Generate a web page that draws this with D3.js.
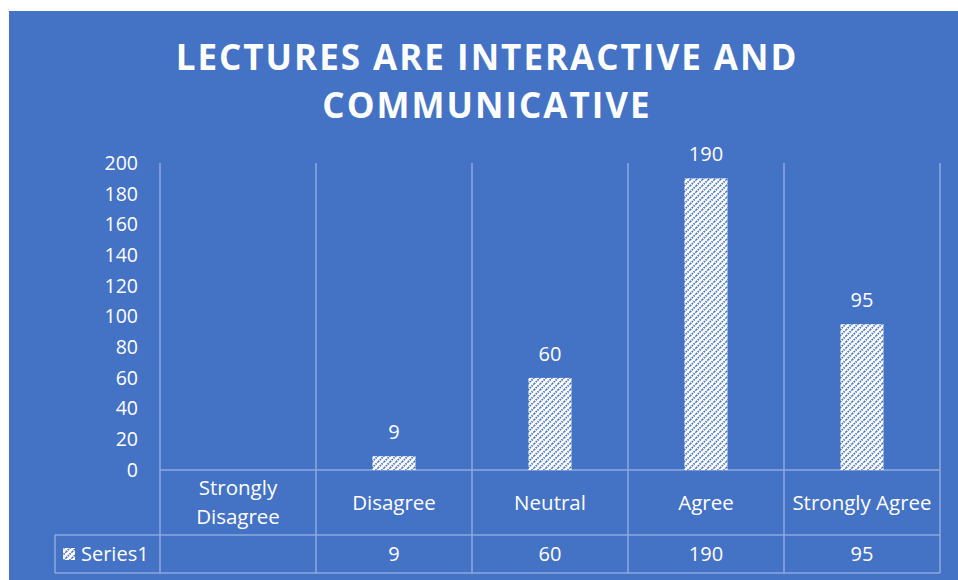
<!DOCTYPE html>
<html><head><meta charset="utf-8">
<script src="https://cdn.jsdelivr.net/npm/d3@7"></script>
<style>body{margin:0;background:#fff}svg{display:block}text{font-family:"Open Sans",sans-serif}</style>
</head><body><svg id="c" width="958" height="580"></svg>
<script>
const categories = ["Strongly Disagree","Disagree","Neutral","Agree","Strongly Agree"];
const categoryLines = [["Strongly","Disagree"],["Disagree"],["Neutral"],["Agree"],["Strongly Agree"]];
const values = [null, 9, 60, 190, 95];
const yTicks = [0,20,40,60,80,100,120,140,160,180,200];
const titleLines = ["LECTURES ARE INTERACTIVE AND","COMMUNICATIVE"];
const seriesName = "Series1";

const svg = d3.select("#c");
const blue = "#4472C4", lineCol = "#8FAADC";
svg.append("rect").attr("x",9).attr("y",11).attr("width",949).attr("height",569).attr("fill",blue);

const defs = svg.append("defs");
const pat = defs.append("pattern").attr("id","hatch").attr("patternUnits","userSpaceOnUse")
  .attr("width",6).attr("height",6);
pat.append("rect").attr("width",6).attr("height",6).attr("fill","#fff");
pat.append("path").attr("d","M-1,1 l2,-2 M0,6 l6,-6 M5,7 l2,-2").attr("stroke",blue).attr("stroke-width",1.8).attr("stroke-dasharray","1.6,0.9");

const x = d3.scaleBand().domain(categories).range([160,940]).padding(0);
const y = d3.scaleLinear().domain([0,200]).range([470,163]);
const row1 = 535, row2 = 573, legendLeft = 55;

// title
svg.append("g").selectAll("text").data(titleLines).join("text")
  .attr("x",487).attr("y",(d,i)=>70+i*48).attr("text-anchor","middle")
  .attr("fill","#fff").attr("font-weight",700).attr("font-size",35).attr("letter-spacing",2)
  .text(d=>d);

// y axis labels
svg.append("g").selectAll("text").data(yTicks).join("text")
  .attr("x",138).attr("y",d=>y(d)).attr("dy","0.35em").attr("text-anchor","end")
  .attr("fill","#fff").attr("font-size",19.5).text(d=>d);

// grid / table lines
const g = svg.append("g").attr("stroke",lineCol).attr("stroke-width",1.5).attr("fill","none");
const bounds = categories.map(c=>x(c)).concat([x.range()[1]]);
bounds.forEach(bx=>{
  g.append("line").attr("x1",bx).attr("x2",bx).attr("y1",y(200)).attr("y2",row2);
});
g.append("line").attr("x1",x.range()[0]).attr("x2",x.range()[1]).attr("y1",y(0)).attr("y2",y(0));
g.append("line").attr("x1",legendLeft).attr("x2",x.range()[1]).attr("y1",row1).attr("y2",row1);
g.append("line").attr("x1",legendLeft).attr("x2",x.range()[1]).attr("y1",row2).attr("y2",row2);
g.append("line").attr("x1",legendLeft).attr("x2",legendLeft).attr("y1",row1).attr("y2",row2);

// bars
const bw = x.bandwidth()*0.276;
const data = categories.map((c,i)=>({c,v:values[i],lines:categoryLines[i]}));
svg.append("g").selectAll("rect").data(data.filter(d=>d.v!=null)).join("rect")
  .attr("x",d=>x(d.c)+x.bandwidth()/2-bw/2).attr("width",bw)
  .attr("y",d=>y(d.v)).attr("height",d=>y(0)-y(d.v)).attr("fill","url(#hatch)");

// data labels
svg.append("g").selectAll("text").data(data.filter(d=>d.v!=null)).join("text")
  .attr("x",d=>x(d.c)+x.bandwidth()/2).attr("y",d=>y(d.v)-17).attr("text-anchor","middle")
  .attr("fill","#fff").attr("font-size",20).text(d=>d.v);

// category labels
const cl = svg.append("g");
data.forEach(d=>{
  const n = d.lines.length;
  d.lines.forEach((t,j)=>{
    cl.append("text").attr("x",x(d.c)+x.bandwidth()/2)
      .attr("y",(y(0)+row1)/2 + (j-(n-1)/2)*29).attr("dy","0.35em").attr("text-anchor","middle")
      .attr("fill","#fff").attr("font-size",20.5).text(t);
  });
});

// value row
svg.append("g").selectAll("text").data(data).join("text")
  .attr("x",d=>x(d.c)+x.bandwidth()/2).attr("y",(row1+row2)/2).attr("dy","0.35em")
  .attr("text-anchor","middle").attr("fill","#fff").attr("font-size",20)
  .text(d=>d.v==null?"":d.v);

// legend key
svg.append("rect").attr("x",63).attr("y",548).attr("width",12).attr("height",12).attr("fill","url(#hatch)");
svg.append("text").attr("x",81).attr("y",(row1+row2)/2).attr("dy","0.35em")
  .attr("fill","#fff").attr("font-size",20).text(seriesName);
</script></body></html>
